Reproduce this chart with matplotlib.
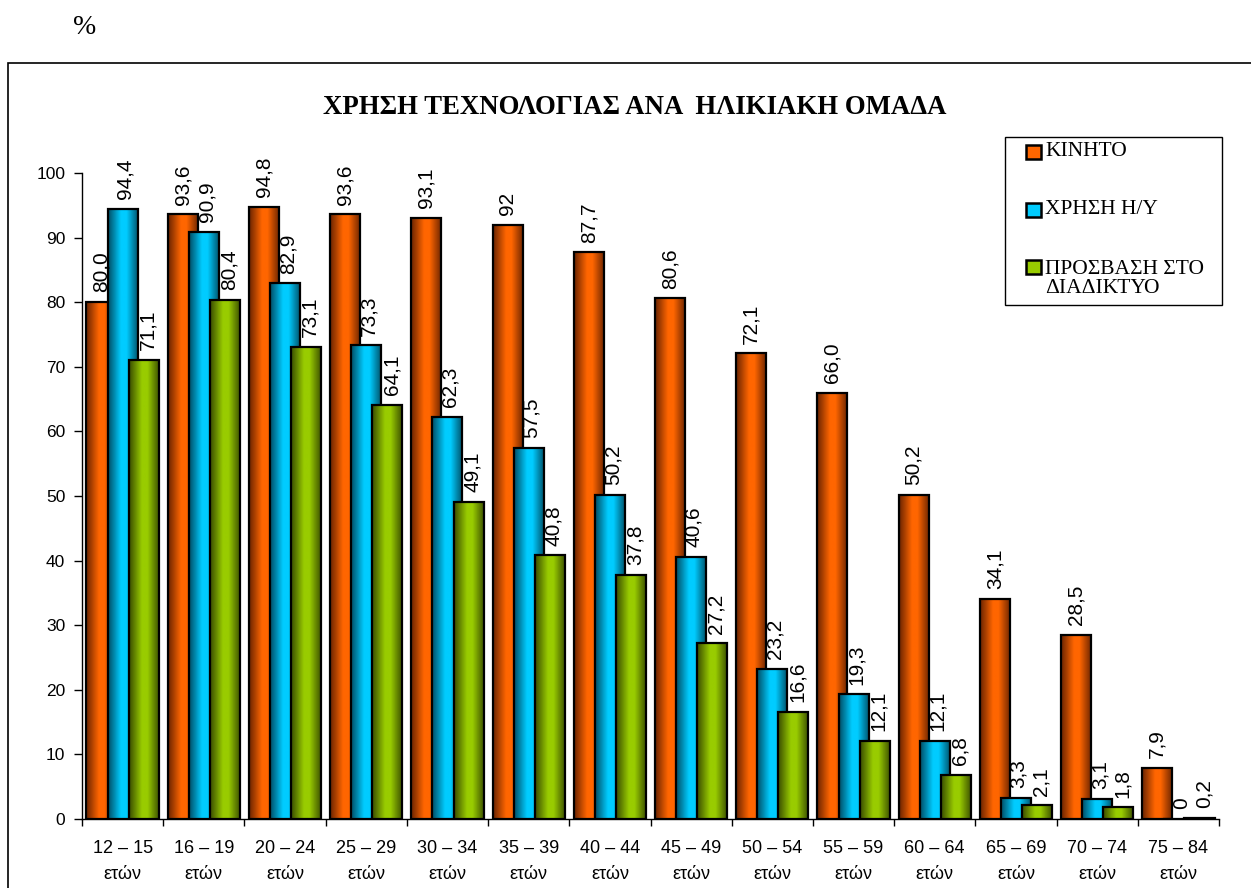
import numpy as np
import matplotlib
matplotlib.use("Agg")
import matplotlib.pyplot as plt
from matplotlib.colors import LinearSegmentedColormap
from matplotlib.patches import Rectangle

categories = ["12 – 15\nετών", "16 – 19\nετών", "20 – 24\nετών", "25 – 29\nετών",
              "30 – 34\nετών", "35 – 39\nετών", "40 – 44\nετών", "45 – 49\nετών",
              "50 – 54\nετών", "55 – 59\nετών", "60 – 64\nετών", "65 – 69\nετών",
              "70 – 74\nετών", "75 – 84\nετών"]
series_names = ["ΚΙΝΗΤΟ", "ΧΡΗΣΗ Η/Υ", "ΠΡΟΣΒΑΣΗ ΣΤΟ\nΔΙΑΔΙΚΤΥΟ"]
mobile = [80.0, 93.6, 94.8, 93.6, 93.1, 92, 87.7, 80.6, 72.1, 66.0, 50.2, 34.1, 28.5, 7.9]
pc = [94.4, 90.9, 82.9, 73.3, 62.3, 57.5, 50.2, 40.6, 23.2, 19.3, 12.1, 3.3, 3.1, 0]
internet = [71.1, 80.4, 73.1, 64.1, 49.1, 40.8, 37.8, 27.2, 16.6, 12.1, 6.8, 2.1, 1.8, 0.2]
mobile_labels = ["80,0", "93,6", "94,8", "93,6", "93,1", "92", "87,7", "80,6", "72,1",
                 "66,0", "50,2", "34,1", "28,5", "7,9"]
pc_labels = ["94,4", "90,9", "82,9", "73,3", "62,3", "57,5", "50,2", "40,6", "23,2",
             "19,3", "12,1", "3,3", "3,1", "0"]
internet_labels = ["71,1", "80,4", "73,1", "64,1", "49,1", "40,8", "37,8", "27,2", "16,6",
                   "12,1", "6,8", "2,1", "1,8", "0,2"]
yticks = [0, 10, 20, 30, 40, 50, 60, 70, 80, 90, 100]

bright = ["#FF6600", "#00CCFF", "#99CC00"]
dark = ["#6B2400", "#004E66", "#3A4D00"]

W, H = 1251, 888
fig = plt.figure(figsize=(W / 100, H / 100), dpi=100)
ax = fig.add_axes([82 / W, 1 - 819 / H, (1219 - 82) / W, (819 - 173) / H])

n = len(categories)
x = np.arange(n)
w = 0.37
step = 0.26
offsets = [-step, 0, step]
data = [mobile, pc, internet]
labels = [mobile_labels, pc_labels, internet_labels]
label_dx = [0, 2, 3]  # small horizontal nudge of labels (points)

grad = np.linspace(0, 1, 64)
for i, (vals, labs) in enumerate(zip(data, labels)):
    cmap = LinearSegmentedColormap.from_list(
        f"g{i}", [(0, dark[i]), (0.42, bright[i]), (0.6, bright[i]), (1, dark[i])])
    bars = ax.bar(x + offsets[i], vals, width=w, facecolor="none",
                  edgecolor="black", linewidth=1.6, zorder=2 + i + 0.5)
    for b, lab in zip(bars, labs):
        x0 = b.get_x()
        h = b.get_height()
        if h > 0:
            ax.imshow(grad[None, :], cmap=cmap, extent=(x0, x0 + w, 0, h),
                      aspect="auto", zorder=2 + i, interpolation="bilinear")
        ax.annotate(lab, (x0 + w / 2, h), xytext=(label_dx[i], 7),
                    textcoords="offset points",
                    rotation=90, ha="center", va="bottom", fontsize=15,
                    family="Liberation Sans", zorder=10)

ax.set_xlim(-0.5, n - 0.5)
ax.set_ylim(0, 100)
ax.set_yticks(yticks)
ax.set_yticklabels([str(t) for t in yticks], fontsize=12.5, family="Liberation Sans")
ax.set_xticks(x)
ax.set_xticklabels(categories, fontsize=13, family="Liberation Sans", linespacing=1.7)
ax.set_xticks(np.arange(n + 1) - 0.5, minor=True)
ax.tick_params(axis="x", which="major", length=0, pad=15)
ax.tick_params(axis="x", which="minor", length=5, direction="out", width=1)
ax.tick_params(axis="y", length=6, direction="out", width=1, pad=6)
for s in ["top", "right"]:
    ax.spines[s].set_visible(False)
ax.spines["left"].set_linewidth(1)
ax.spines["bottom"].set_linewidth(1)

# Outer frame
fig.patches.append(Rectangle((8 / W, -0.05), 1.1, 1 - 63 / H + 0.05,
                             transform=fig.transFigure, fill=False,
                             edgecolor="black", linewidth=1.2))
fig.text(85 / W, 1 - 28 / H, "%", fontsize=20, family="Liberation Serif",
         ha="center", va="center")
fig.text(635 / W, 1 - 107 / H, "ΧΡΗΣΗ ΤΕΧΝΟΛΟΓΙΑΣ ΑΝΑ  ΗΛΙΚΙΑΚΗ ΟΜΑΔΑ",
         fontsize=19.3, fontweight="bold", family="Liberation Serif",
         ha="center", va="center")

# Legend (drawn manually to match the box)
fig.patches.append(Rectangle((1005 / W, 1 - 305 / H), 217 / W, 168 / H,
                             transform=fig.transFigure, facecolor="white",
                             edgecolor="black", linewidth=1, zorder=5))
leg_y = [152, 210, 279]
for c, name, yy in zip(bright, series_names, leg_y):
    nlines = name.count("\n") + 1
    my = yy - (nlines - 1) * 12
    fig.patches.append(Rectangle((1026 / W, 1 - (my + 7) / H), 15 / W, 14 / H,
                                 transform=fig.transFigure, facecolor=c,
                                 edgecolor="black", linewidth=1.8, zorder=6))
    fig.text(1045 / W, 1 - yy / H, name, fontsize=15.5, family="Liberation Serif",
             ha="left", va="center", linespacing=1.05, zorder=7)

fig.savefig("out.png", dpi=100)
